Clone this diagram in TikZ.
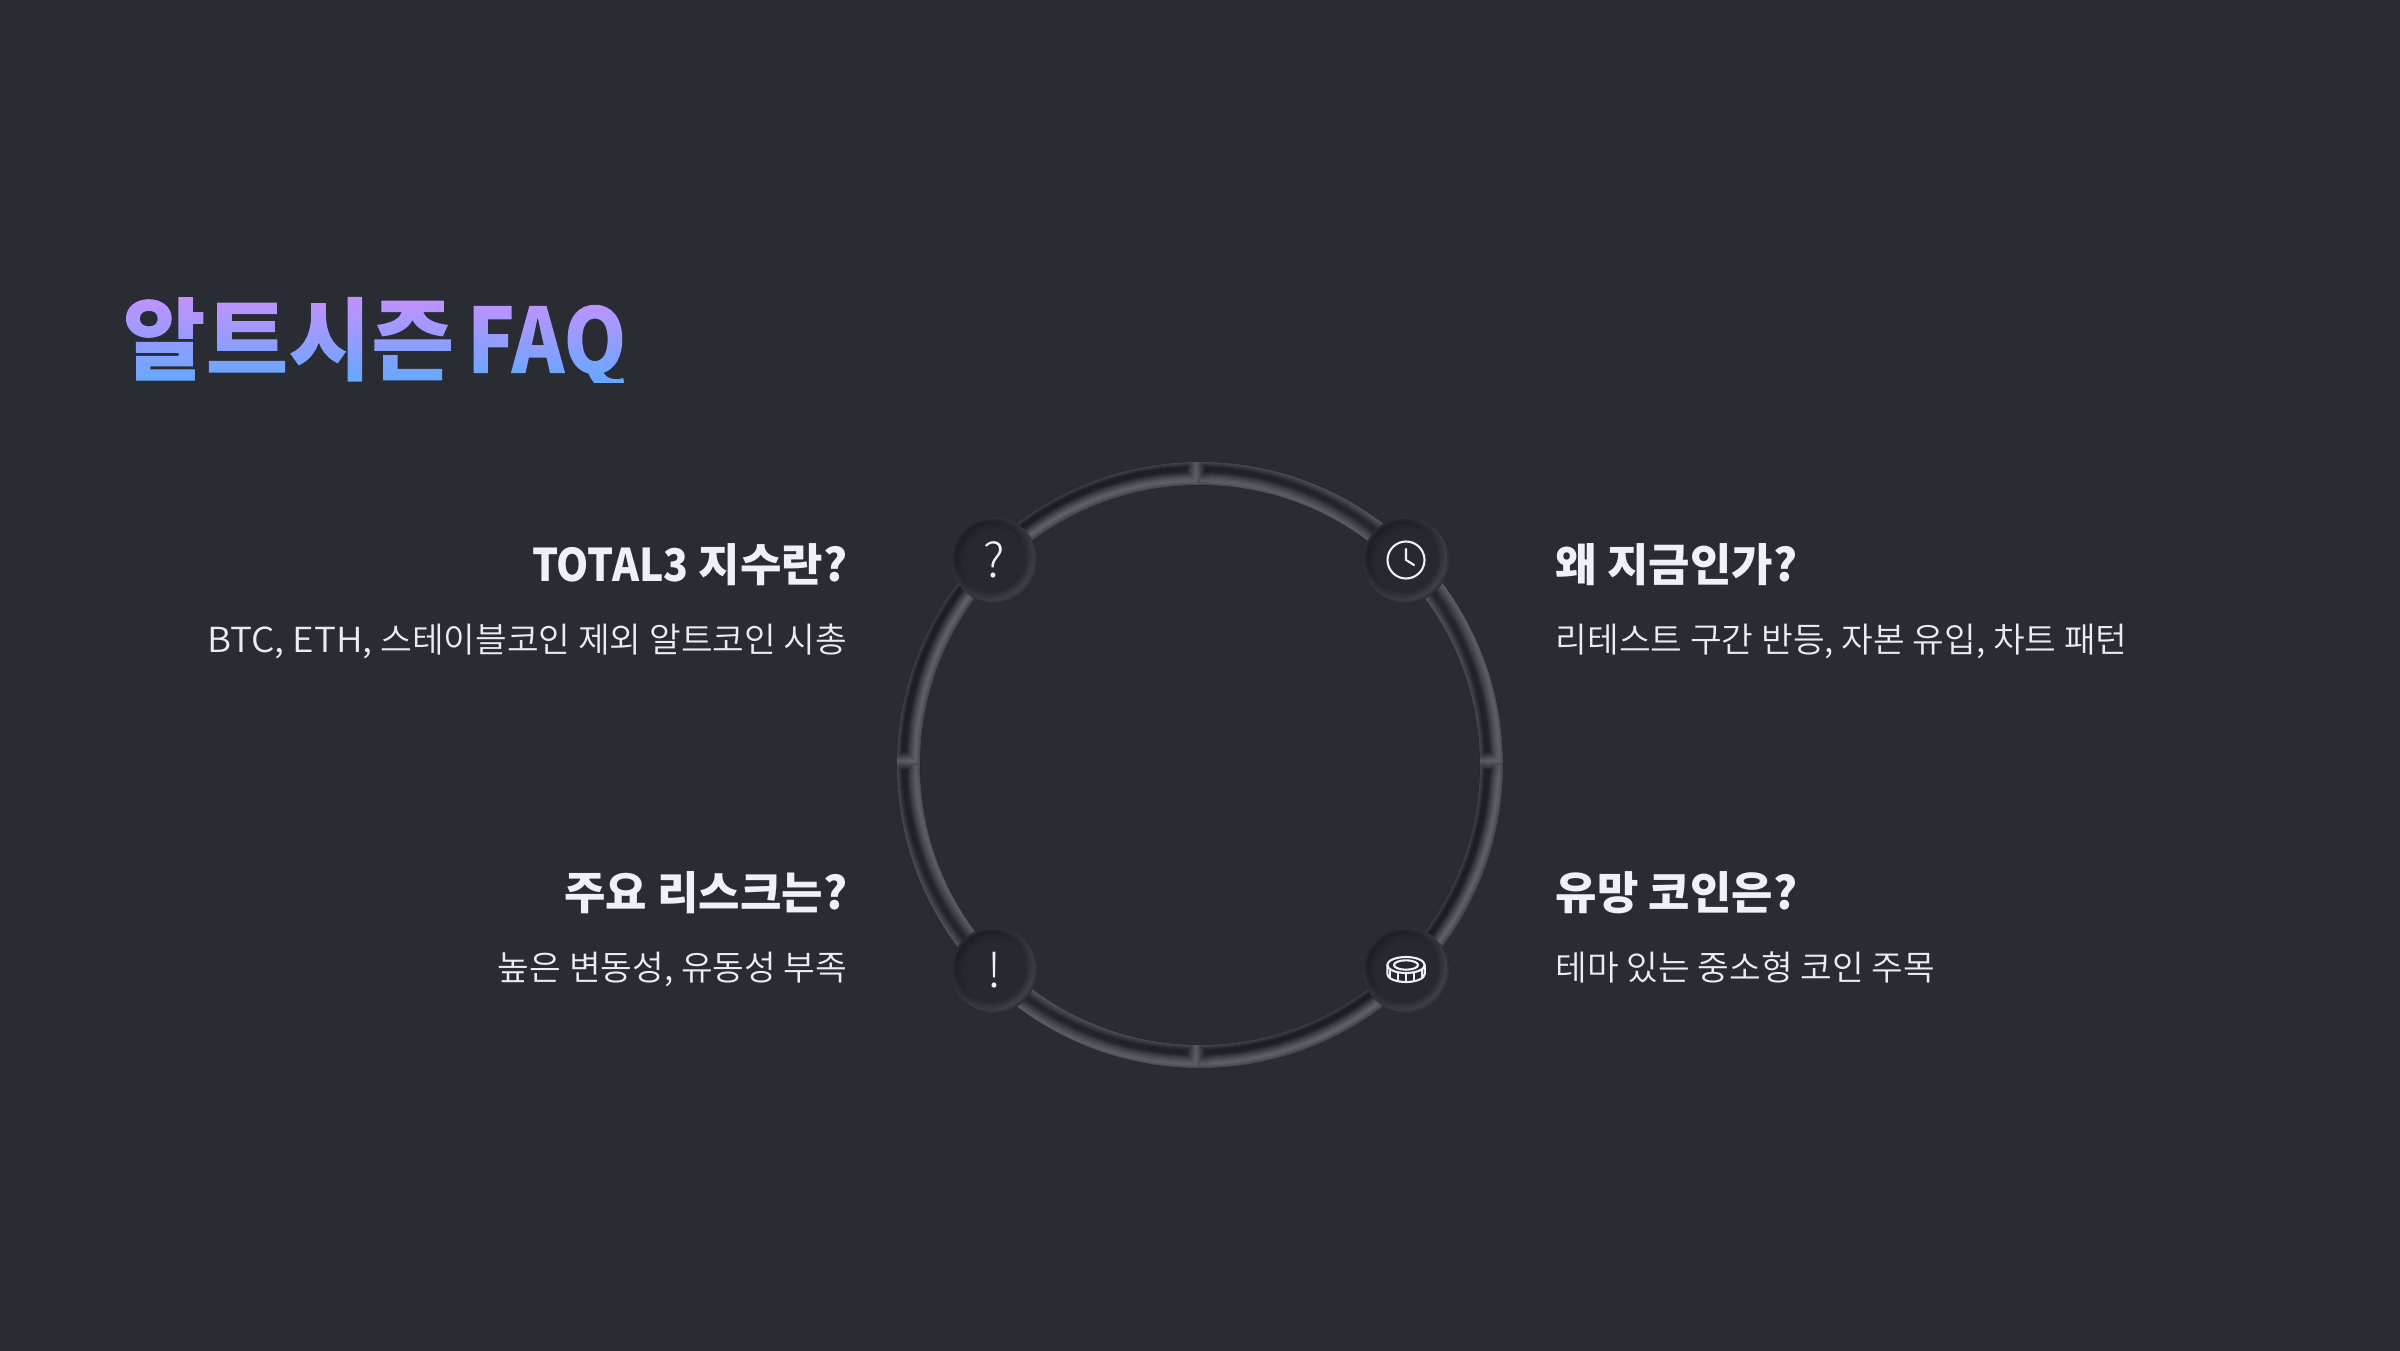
\documentclass[tikz,border=0pt]{standalone}
\usepackage{fontspec}
\newfontfamily\krhead{Noto Sans CJK KR}
\newfontfamily\krlatin[FakeStretch=.91]{Noto Sans CJK KR}
\newfontfamily\krtitlelatin[FakeStretch=.89]{Noto Sans CJK KR}
\newfontfamily\krbody{Noto Sans CJK KR}[UprightFont=* DemiLight]
\newfontfamily\krbodylatin[FakeStretch=1.07]{Noto Sans CJK KR}[UprightFont=* DemiLight]
\newfontfamily\krthin{Noto Sans CJK KR}[UprightFont=* Light]
\definecolor{slidebg}{HTML}{292C33}
\definecolor{headcolor}{HTML}{F0F1F6}
\definecolor{bodycolor}{HTML}{ECEDF2}
\definecolor{titletop}{HTML}{CC8FFF}
\definecolor{titlebottom}{HTML}{64A8FF}
% one quarter of the ring
\newcommand{\ringsector}[1]{(#1:303) arc[start angle=#1, end angle=#1+90, radius=303] -- ({#1+90}:280) arc[start angle=#1+90, end angle=#1, radius=280] -- cycle}
% gradient behind text used as a clip
\pgfdeclareverticalshading{titlegrad}{145pt}{color(0pt)=(titlebottom); color(26.2pt)=(titletop)}
\makeatletter
\newcommand{\gradienttext}[1]{\pgfsys@beginscope\rlap{\pgfsys@invoke{7 Tr }#1\pgfsys@invoke{ 0 Tr }}\raisebox{-2.56pt}{\pgfuseshading{titlegrad}}\pgfsys@endscope}
\makeatother
\tikzset{
  titletext/.style={inner sep=0pt, font=\krhead\bfseries\fontsize{25.6pt}{30pt}\selectfont},
  headleft/.style={anchor=base east, inner sep=0pt, text=headcolor, font=\krhead\bfseries\fontsize{12.8pt}{16pt}\selectfont},
  headright/.style={anchor=base west, inner sep=0pt, text=headcolor, font=\krhead\bfseries\fontsize{12.8pt}{16pt}\selectfont},
  bodyleft/.style={anchor=base east, inner sep=0pt, text=bodycolor, font=\krbody\fontsize{9.8pt}{12pt}\selectfont},
  bodyright/.style={anchor=base west, inner sep=0pt, text=bodycolor, font=\krbody\fontsize{9.8pt}{12pt}\selectfont},
  iconline/.style={draw=headcolor, line width=0.6pt},
  iconcirc/.style={circle, minimum size=0.86cm, inner sep=0pt, fill=slidebg!94!black, text=headcolor,
    font=\krthin\fontsize{13.5pt}{13.5pt}\selectfont,
    path picture={
      \foreach \w in {2,6,...,18}
        \draw[black, opacity=.035, line width=\w*0.2845pt] ([shift={(3,-3)}]path picture bounding box.center) circle (43);
      \foreach \w in {2,6,...,14}
        \draw[white, opacity=.03, line width=\w*0.2845pt] ([shift={(-3,3)}]path picture bounding box.center) circle (43);
    }},
}
\begin{document}
\begin{tikzpicture}[x=0.01cm,y=0.01cm]
  \useasboundingbox (0,0) rectangle (2400,1350);
  % Background
  \fill[slidebg] (-10,-10) rectangle (2410,1360);

  % Title with gradient
  \node[titletext, anchor=base west] (title) at (122,977) {\gradienttext{알트시즌\hspace{3.6pt}{\krtitlelatin FAQ}}};

  % Ring in four quarters
  \begin{scope}[shift={(1200,585)}]
    \foreach \a in {0,90,180,270} {
      \begin{scope}
        \clip \ringsector{\a};
        \foreach \w in {2,6,...,26}
          \draw[black, opacity=.04, line width=\w*0.2845pt, shift={(4,-4)}] \ringsector{\a};
        \foreach \w in {2,4,...,18}
          \draw[white, opacity=.035, line width=\w*0.2845pt, shift={(-4,4)}] \ringsector{\a};
      \end{scope}
    }
  \end{scope}

  % Icon circles
  \node[iconcirc] (askicon) at (994,790) {?};
  \node[iconcirc] (clockicon) at (1406,790) {};
  \node[iconcirc] (warnicon) at (994,380) {!};
  \node[iconcirc] (coinicon) at (1406,380) {};

  % Clock
  \draw[iconline] (clockicon.center) circle (18.5);
  \draw[iconline, line cap=round, line join=round] ([yshift=0.11cm]clockicon.center) -- (clockicon.center) -- ++(8,-5);

  % Coin
  \begin{scope}[shift={(coinicon.center)}, line join=round]
    \draw[iconline] (0,5) ellipse (18.7 and 8);
    \draw[iconline] (0,5) ellipse (12 and 4.7);
    \draw[iconline] (-18.7,5) -- (-18.7,-4) arc[start angle=180, end angle=360, x radius=18.7, y radius=8] -- (18.7,5);
    \foreach \t in {-60,-25,0,25,60}
      \draw[iconline] ({18.7*sin(\t)},{5-8*cos(\t)}) -- ++(0,-9);
  \end{scope}

  % Left labels
  \node[headleft] (totalhead) at (848,769) {{\krlatin TOTAL3} 지수란?};
  \node[bodyleft] (totalbody) at (848,698) {{\krbodylatin BTC, ETH,} 스테이블코인 제외 알트코인 시총};
  \node[headleft] (riskhead) at (848,441) {주요 리스크는?};
  \node[bodyleft] (riskbody) at (848,370) {높은 변동성, 유동성 부족};

  % Right labels
  \node[headright] (whyhead) at (1555,769) {왜 지금인가?};
  \node[bodyright] (whybody) at (1555,698) {리테스트 구간 반등, 자본 유입, 차트 패턴};
  \node[headright] (coinhead) at (1555,441) {유망 코인은?};
  \node[bodyright] (coinbody) at (1555,370) {테마 있는 중소형 코인 주목};
\end{tikzpicture}
\end{document}
